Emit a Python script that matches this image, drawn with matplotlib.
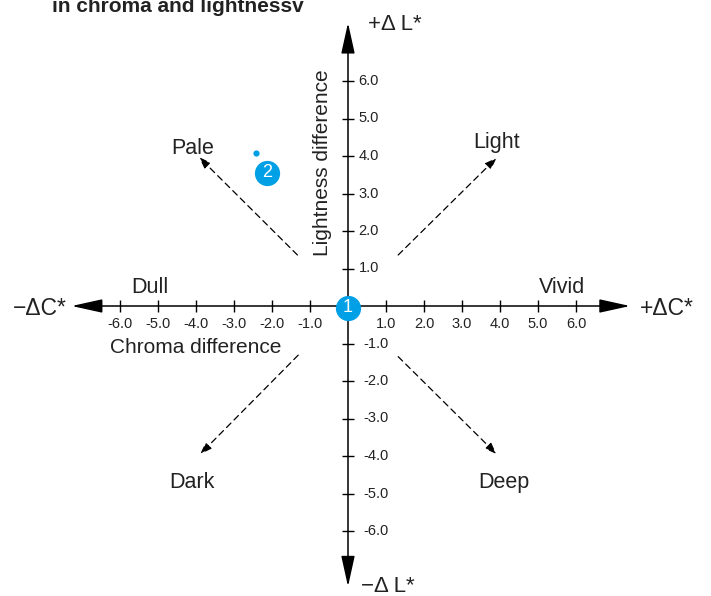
import numpy as np
import matplotlib.pyplot as plt

plt.rcParams['font.family'] = ['Liberation Sans', 'DejaVu Sans']

# tick values on both axes (no tick at the origin)
tick_values = [-6.0, -5.0, -4.0, -3.0, -2.0, -1.0, 1.0, 2.0, 3.0, 4.0, 5.0, 6.0]

# diagonal tone directions: dashed arrow from tail to tip, label near the tip
tone_names = ['Pale', 'Light', 'Dark', 'Deep']
tone_tail_x = [-1.33, 1.32, -1.31, 1.32]
tone_tail_y = [1.36, 1.36, -1.31, -1.35]
tone_tip_x = [-3.92, 3.91, -3.89, 3.91]
tone_tip_y = [3.97, 3.95, -3.95, -3.95]
tone_label_x = [-4.08, 3.92, -4.10, 4.10]
tone_label_y = [4.05, 4.21, -4.85, -4.85]

# chroma-only directions
chroma_names = ['Dull', 'Vivid']
chroma_label_x = [-5.21, 5.63]
chroma_label_y = [0.35, 0.35]

# sample points: 1 = standard (origin), 2 = measured sample
sample_x = [0.0, -2.42]
sample_y = [-0.05, 4.07]
badge_x = [0.0, -2.14]
badge_y = [-0.05, 3.56]
badge_text = ['1', '2']

cyan = '#00a0e6'
ink = '#222222'

fig = plt.figure(figsize=(7.11, 5.96), dpi=100)
ax = fig.add_axes([0, 0, 1, 1])
ax.set_xlim(-348 / 38, 363 / 38)
ax.set_ylim(-290 / 37.5, 306 / 37.5)
ax.axis('off')

# main axes with arrow heads on both ends
axis_arrow = dict(arrowstyle='<|-|>,head_length=1.9,head_width=0.42', lw=1.1,
                  color='black', shrinkA=0, shrinkB=0, mutation_scale=10)
ax.annotate('', xy=(7.42, 0), xytext=(-7.27, 0), arrowprops=axis_arrow)
ax.annotate('', xy=(0, 7.55), xytext=(0, -7.48), arrowprops=axis_arrow)

# tick marks and labels
tv = np.array(tick_values)
ax.plot(tv, np.zeros_like(tv), '|', color='black', ms=9, mew=1.0)
ax.plot(np.zeros_like(tv), tv, '_', color='black', ms=9, mew=1.0)
for v in tick_values:
    ax.text(v, -0.48, f'{v:.1f}', ha='center', va='center', fontsize=10.5, color=ink)
    ax.text(0.28 if v > 0 else 0.40, v, f'{v:.1f}', ha='left', va='center',
            fontsize=10.5, color=ink)

# axis names
ax.text(-4.0, -1.25, 'Chroma difference', ha='center', va='baseline', fontsize=15, color=ink)
ax.text(-0.68, 3.81, 'Lightness difference', rotation=90, ha='center', va='center',
        fontsize=15, color=ink)
ax.text(1.24, 7.36, '+Δ L*', ha='center', va='baseline', fontsize=16, color=ink)
ax.text(1.05, -7.62, '−Δ L*', ha='center', va='baseline', fontsize=16, color=ink)
ax.text(-8.1, -0.24, '−ΔC*', ha='center', va='baseline', fontsize=16.5, color=ink)
ax.text(8.39, -0.24, '+ΔC*', ha='center', va='baseline', fontsize=16.5, color=ink)

# dashed tone arrows
dash_arrow = dict(arrowstyle='-|>,head_length=0.7,head_width=0.25', lw=0.9,
                  color='black', linestyle=(0, (5, 3.5)), shrinkA=0, shrinkB=0,
                  mutation_scale=10)
for i, name in enumerate(tone_names):
    ax.annotate('', xy=(tone_tip_x[i], tone_tip_y[i]),
                xytext=(tone_tail_x[i], tone_tail_y[i]), arrowprops=dash_arrow)
    ax.text(tone_label_x[i], tone_label_y[i], name, ha='center', va='baseline',
            fontsize=15.5, color=ink)

for i, name in enumerate(chroma_names):
    ax.text(chroma_label_x[i], chroma_label_y[i], name, ha='center', va='baseline',
            fontsize=15.5, color=ink)

# sample dot and numbered badges
ax.scatter(sample_x[1:], sample_y[1:], s=20, color=cyan, zorder=5, linewidths=0)
ax.scatter(badge_x, badge_y, s=330, color=cyan, zorder=5, linewidths=0)
for bx, by, t in zip(badge_x, badge_y, badge_text):
    ax.text(bx, by, t, ha='center', va='center', fontsize=13, color='white', zorder=6)

# title (top is cut off in the original)
ax.text(-7.79, 7.84, 'in chroma and lightnessv', ha='left', va='baseline',
        fontsize=15, fontweight='bold', color=ink)

fig.savefig('out.png', dpi=100)
